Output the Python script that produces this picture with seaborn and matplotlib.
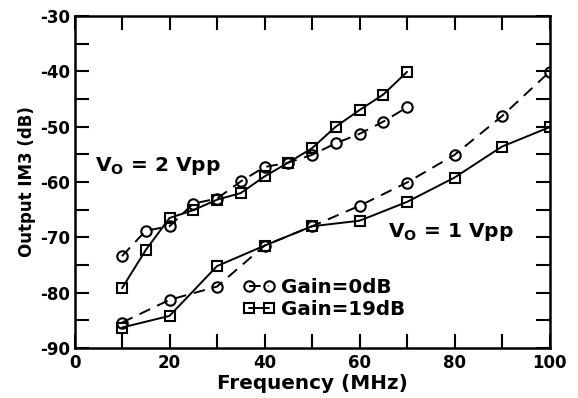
import numpy as np
import pandas as pd
import matplotlib
matplotlib.use("Agg")
import matplotlib.pyplot as plt
import seaborn as sns
from matplotlib.ticker import MultipleLocator, FuncFormatter

# ---- data ----
freq_2v = [10, 15, 20, 25, 30, 35, 40, 45, 50, 55, 60, 65, 70]
im3_2v_g0 = [-73.4, -68.8, -68.0, -63.9, -63.0, -59.9, -57.3, -56.5, -55.1, -53.0, -51.3, -49.1, -46.5]
im3_2v_g19 = [-79.2, -72.3, -66.5, -65.1, -63.2, -62.0, -59.0, -56.5, -53.9, -50.0, -47.0, -44.2, -40.1]

freq_1v = [10, 20, 30, 40, 50, 60, 70, 80, 90, 100]
im3_1v_g0 = [-85.4, -81.3, -78.9, -71.5, -68.0, -64.3, -60.1, -55.1, -48.1, -40.1]
im3_1v_g19 = [-86.3, -84.2, -75.2, -71.5, -68.0, -67.0, -63.6, -59.2, -53.6, -50.1]

legend_labels = ["Gain=0dB", "Gain=19dB"]
x_label = "Frequency (MHz)"
y_label = "Output IM3 (dB)"
annot_2v = r"V$_\mathbf{O}$ = 2 Vpp"
annot_1v = r"V$_\mathbf{O}$ = 1 Vpp"

sns.set_theme(style="ticks")
plt.rcParams["font.family"] = ["DejaVu Sans"]
plt.rcParams["font.weight"] = "bold"
plt.rcParams["mathtext.fontset"] = "dejavusans"
plt.rcParams["text.color"] = "black"
plt.rcParams["axes.labelcolor"] = "black"
plt.rcParams["xtick.color"] = "black"
plt.rcParams["ytick.color"] = "black"

fig = plt.figure(figsize=(5.78, 3.98), dpi=100)
ax = fig.add_axes([74.5 / 578, 1 - 348 / 398, 475 / 578, 332 / 398])

common = dict(color="black", linewidth=1.4, markersize=7.5, markerfacecolor="none",
              markeredgecolor="black", markeredgewidth=1.5)

def draw(x, y, marker, ls, label=None):
    df = pd.DataFrame({"f": x, "v": y})
    sns.lineplot(data=df, x="f", y="v", ax=ax, marker=marker, linestyle=ls,
                 label=label, **common)

dash = (0, (6, 4))
draw(freq_2v, im3_2v_g0, "o", dash, legend_labels[0])
draw(freq_2v, im3_2v_g19, "s", "-", legend_labels[1])
draw(freq_1v, im3_1v_g0, "o", dash)
draw(freq_1v, im3_1v_g19, "s", "-")

ax.set_xlim(0, 100)
ax.set_ylim(-90, -30)
ax.xaxis.set_major_locator(MultipleLocator(10))
ax.yaxis.set_major_locator(MultipleLocator(5))
ax.xaxis.set_major_formatter(FuncFormatter(lambda v, p: f"{int(round(v))}" if int(round(v)) % 20 == 0 else ""))
ax.yaxis.set_major_formatter(FuncFormatter(lambda v, p: f"{int(round(v))}" if int(round(v)) % 10 == 0 else ""))
ax.tick_params(direction="in", length=10, width=1.5, top=True, right=True,
               labelsize=12, color="black", labelcolor="black")
ax.tick_params(axis="x", pad=4)
ax.tick_params(axis="y", pad=3)
for lab in ax.get_xticklabels() + ax.get_yticklabels():
    lab.set_fontweight("bold")
for s in ax.spines.values():
    s.set_linewidth(1.8)
    s.set_color("black")

ax.set_xlabel(x_label, fontsize=14.4, fontweight="bold", labelpad=2, color="black")
ax.set_ylabel(y_label, fontsize=12, fontweight="bold", labelpad=3, color="black")

ax.text(4.3, -58.1, annot_2v, fontsize=14.5, fontweight="bold", ha="left", va="baseline", color="black")
ax.text(66.0, -69.9, annot_1v, fontsize=14.5, fontweight="bold", ha="left", va="baseline", color="black")

leg = ax.legend(loc="center left", bbox_to_anchor=(0.355, 0.148), frameon=False,
                numpoints=2, handlelength=1.6, handletextpad=0.3, labelspacing=0.15,
                prop={"size": 14.3, "weight": "bold"}, borderaxespad=0, borderpad=0)
for t in leg.get_texts():
    t.set_color("black")

fig.savefig("out.png", dpi=100)
